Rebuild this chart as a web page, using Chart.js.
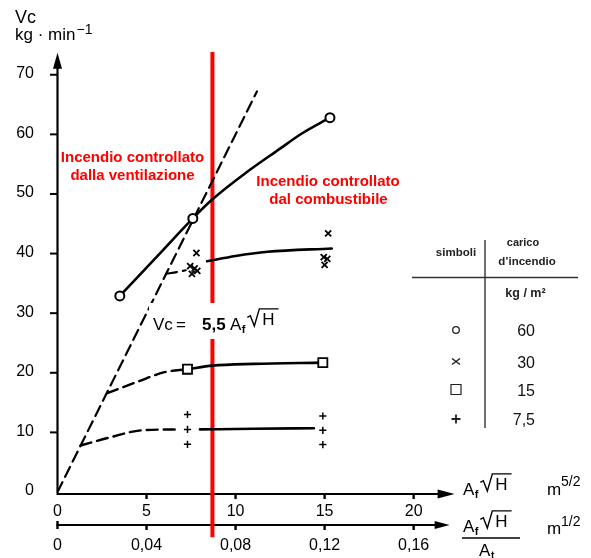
<!DOCTYPE html>
<html>
<head>
<meta charset="utf-8">
<script src="https://cdn.jsdelivr.net/npm/chart.js@4.4.1/dist/chart.umd.min.js"></script>
<style>
  html, body { margin: 0; padding: 0; background: #fff; }
  canvas { display: block; }
</style>
</head>
<body>
<canvas id="chart" width="591" height="558"></canvas>
<script>
// Rate of combustion Vc (kg/min) against the ventilation factor Af·√H

// axis ticks
const yTicks = [0, 10, 20, 30, 40, 50, 60, 70];
const xTicks = [0, 5, 10, 15, 20];
const x2Ticks = [0, 0.04, 0.08, 0.12, 0.16];
const x2Labels = ['0', '0,04', '0,08', '0,12', '0,16'];

// ventilation-controlled limit, Vc = 5,5 Af√H
const ventLimit = [[0, 0], [11.2, 67.2]];
// boundary between the two regimes
const boundaryX = 8.7;
const boundaryY = [-7.6, 73.8];

// fire load 60 kg/m²
const load60Marks = [[3.5, 32.9], [7.6, 45.9], [15.3, 62.8]];
const load60Curve = [[3.5, 32.9], [5.9, 40.5], [7.6, 45.9], [8.7, 49.1], [10.6, 53.6], [12.5, 57.6], [13.7, 60.1], [15.3, 62.8]];

// fire load 30 kg/m²
const load30Marks = [[7.8, 40.1], [7.45, 37.9], [7.7, 37.5], [7.55, 36.6], [7.85, 37.1],
                     [15.2, 43.4], [14.95, 39.4], [15.15, 39.1], [15.0, 38.1]];
const load30Dashed = [[6.1, 36.6], [6.7, 36.9], [7.2, 37.2]];
const load30Curve = [[8.4, 38.7], [10.0, 39.6], [11.8, 40.3], [15.4, 40.85]];

// fire load 15 kg/m²
const load15Marks = [[7.3, 20.6], [14.9, 21.7]];
const load15Dashed = [[2.8, 16.6], [4.5, 18.5], [6.0, 20.1], [7.3, 20.6]];
const load15Curve = [[7.3, 20.6], [8.7, 21.2], [11.0, 21.5], [14.9, 21.7]];

// fire load 7,5 kg/m²
const load75Marks = [[7.3, 13.0], [7.3, 10.5], [7.3, 8.0], [14.9, 12.75], [14.9, 10.35], [14.9, 7.95]];
const load75Dashed = [[1.3, 7.8], [3.0, 9.2], [4.7, 10.35], [6.7, 10.5]];
const load75Curve = [[8.0, 10.5], [11.0, 10.6], [14.4, 10.7]];

// legend table
const legendStyles = ['circle', 'crossRot', 'rect', 'cross'];
const legendLoads = ['60', '30', '15', '7,5'];

const pts = arr => arr.map(([x, y]) => ({ x, y }));
const FONT = '"Liberation Sans", Arial, Helvetica, sans-serif';
const INK = '#000';
const RED = '#ff0000';

function curve(data, dashed, width) {
  return {
    type: 'line', data: pts(data), borderColor: INK, borderWidth: width || 2.4,
    borderDash: dashed ? [11, 6] : [], pointRadius: 0, fill: false,
    cubicInterpolationMode: 'monotone', borderCapStyle: 'round', borderJoinStyle: 'round'
  };
}
function marks(data, style, radius, lw) {
  return {
    type: 'scatter', data: pts(data), showLine: false, pointStyle: style,
    pointRadius: radius, pointBorderWidth: lw, pointBorderColor: INK,
    pointBackgroundColor: '#fff'
  };
}

function text(ctx, s, x, y, font, align, color) {
  ctx.font = font;
  ctx.textAlign = align || 'left';
  ctx.textBaseline = 'alphabetic';
  ctx.fillStyle = color || INK;
  ctx.fillText(s, x, y);
  return ctx.measureText(s).width;
}

// A_f √H with a drawn radical; returns the right end
function ventFactor(ctx, x, base, size) {
  const w = text(ctx, 'A', x, base, size + 'px ' + FONT);
  text(ctx, 'f', x + w + 0.5, base + 3, 'bold ' + Math.round(size * 0.62) + 'px ' + FONT);
  const r0 = x + w + 6;
  const hb = base - 5;                 // raised root
  const top = hb - size * 0.95;
  ctx.font = size + 'px ' + FONT;
  const hw = ctx.measureText('H').width;
  ctx.beginPath();
  ctx.moveTo(r0, hb - size * 0.45);
  ctx.lineTo(r0 + 3, hb - size * 0.55);
  ctx.lineTo(r0 + 7, hb + 1);
  ctx.lineTo(r0 + 12, top);
  ctx.lineTo(r0 + 15 + hw + 4, top);
  ctx.strokeStyle = INK; ctx.lineWidth = 1.4; ctx.stroke();
  text(ctx, 'H', r0 + 15, hb, size + 'px ' + FONT);
  return r0 + 15 + hw + 4;
}

const figureDecor = {
  id: 'figureDecor',
  beforeDatasetsDraw(chart) {
    const { ctx, chartArea: ca, scales: { x, y, x2 } } = chart;
    const x0 = x.getPixelForValue(0), y0 = y.getPixelForValue(0);
    ctx.save();
    ctx.strokeStyle = INK; ctx.fillStyle = INK; ctx.lineCap = 'butt';

    // vertical axis with arrow
    ctx.lineWidth = 2.2;
    ctx.beginPath(); ctx.moveTo(x0, y0 + 1); ctx.lineTo(x0, ca.top + 12); ctx.stroke();
    ctx.beginPath(); ctx.moveTo(x0, ca.top); ctx.lineTo(x0 - 4.5, ca.top + 16); ctx.lineTo(x0 + 4.5, ca.top + 16); ctx.closePath(); ctx.fill();
    yTicks.forEach(v => {
      const py = y.getPixelForValue(v);
      if (v > 0) { ctx.lineWidth = 2; ctx.beginPath(); ctx.moveTo(x0 - 7.5, py); ctx.lineTo(x0, py); ctx.stroke(); }
      ctx.font = '16px ' + FONT; ctx.textAlign = 'right'; ctx.textBaseline = 'middle';
      ctx.fillText(String(v), 34, py - 1);
    });

    // first horizontal axis: Af√H
    ctx.lineWidth = 2.2;
    ctx.beginPath(); ctx.moveTo(x0 - 1, y0 + 2); ctx.lineTo(ca.right - 12, y0 + 2); ctx.stroke();
    ctx.beginPath(); ctx.moveTo(ca.right, y0 + 2); ctx.lineTo(ca.right - 17, y0 - 2.5); ctx.lineTo(ca.right - 17, y0 + 6.5); ctx.closePath(); ctx.fill();
    xTicks.forEach(v => {
      const px = x.getPixelForValue(v);
      if (v > 0) { ctx.lineWidth = 2.4; ctx.beginPath(); ctx.moveTo(px, y0 + 1); ctx.lineTo(px, y0 + 7); ctx.stroke(); }
      ctx.font = '16px ' + FONT; ctx.textAlign = 'center'; ctx.textBaseline = 'middle';
      ctx.fillText(String(v), px, y0 + 20);
    });

    // second horizontal axis: Af√H / At
    const y2 = y0 + 33;
    ctx.lineWidth = 2;
    ctx.beginPath(); ctx.moveTo(x0 - 1, y2); ctx.lineTo(ca.right - 16, y2); ctx.stroke();
    ctx.beginPath(); ctx.moveTo(ca.right - 5, y2); ctx.lineTo(ca.right - 20, y2 - 4); ctx.lineTo(ca.right - 20, y2 + 4); ctx.closePath(); ctx.fill();
    x2Ticks.forEach((v, i) => {
      const px = x2.getPixelForValue(v);
      ctx.lineWidth = 2.4; ctx.beginPath();
      if (i === 0) { ctx.moveTo(px, y2 - 4); ctx.lineTo(px, y2 + 4); }
      else { ctx.moveTo(px, y2); ctx.lineTo(px, y2 + 5); }
      ctx.stroke();
      ctx.font = '16px ' + FONT; ctx.textAlign = 'center'; ctx.textBaseline = 'middle';
      ctx.fillText(x2Labels[i], px, y2 + 21);
    });
    ctx.restore();
  },

  afterDatasetsDraw(chart) {
    const { ctx } = chart;
    ctx.save();

    // axis titles
    text(ctx, 'Vc', 15, 23, '18px ' + FONT);
    const kw = text(ctx, 'kg · min', 15, 40, '17px ' + FONT);
    text(ctx, '−1', 15 + kw + 1, 34, '14px ' + FONT);

    ventFactor(ctx, 463, 495, 17);
    text(ctx, 'm', 547, 495, '17px ' + FONT);
    text(ctx, '5/2', 561, 486, '14px ' + FONT);

    ventFactor(ctx, 463, 532, 17);
    ctx.strokeStyle = INK; ctx.lineWidth = 1.3;
    ctx.beginPath(); ctx.moveTo(462, 538); ctx.lineTo(520, 538); ctx.stroke();
    text(ctx, 'A', 479, 556, '17px ' + FONT);
    text(ctx, 't', 491, 559, 'bold 10px ' + FONT);
    text(ctx, 'm', 547, 534, '17px ' + FONT);
    text(ctx, '1/2', 561, 526, '14px ' + FONT);

    // regime labels
    const rb = 'bold 15px ' + FONT;
    text(ctx, 'Incendio controllato', 132.5, 162, rb, 'center', RED);
    text(ctx, 'dalla ventilazione', 132.5, 179.5, rb, 'center', RED);
    text(ctx, 'Incendio controllato', 328, 185.5, rb, 'center', RED);
    text(ctx, 'dal combustibile', 328.5, 203.5, rb, 'center', RED);

    // limit formula on a white ground
    ctx.fillStyle = '#fff';
    ctx.fillRect(149, 303, 142, 36);
    text(ctx, 'Vc', 153, 330, '17px ' + FONT);
    text(ctx, '=', 176, 330, '17px ' + FONT);
    text(ctx, '5,5', 202, 330, 'bold 17px ' + FONT);
    ventFactor(ctx, 230, 330, 17);

    // legend table
    ctx.strokeStyle = '#333'; ctx.lineWidth = 1.4;
    ctx.beginPath(); ctx.moveTo(485, 240); ctx.lineTo(485, 428); ctx.stroke();
    ctx.beginPath(); ctx.moveTo(412, 277.5); ctx.lineTo(578, 277.5); ctx.stroke();
    const hf = 'bold 11.5px ' + FONT;
    text(ctx, 'simboli', 456, 256, hf, 'center', '#222');
    text(ctx, 'carico', 523, 246, 'bold 11px ' + FONT, 'center', '#222');
    text(ctx, 'd\u2019incendio', 527, 265, hf, 'center', '#222');
    text(ctx, 'kg / m²', 525.5, 297, 'bold 12.5px ' + FONT, 'center', '#222');

    const rows = [330, 361.5, 389.5, 419];
    legendStyles.forEach((st, i) => {
      const sx = 456, sy = rows[i];
      ctx.strokeStyle = '#222'; ctx.beginPath();
      if (st === 'circle') { ctx.lineWidth = 1.3; ctx.arc(sx, sy, 3.3, 0, Math.PI * 2); }
      else if (st === 'crossRot') { ctx.lineWidth = 1.5; ctx.moveTo(sx - 4, sy - 3); ctx.lineTo(sx + 4, sy + 3); ctx.moveTo(sx - 4, sy + 3); ctx.lineTo(sx + 4, sy - 3); }
      else if (st === 'rect') { ctx.lineWidth = 1.2; ctx.rect(sx - 5, sy - 5, 10, 10); }
      else { ctx.lineWidth = 1.8; ctx.moveTo(sx - 4.5, sy); ctx.lineTo(sx + 4.5, sy); ctx.moveTo(sx, sy - 4.5); ctx.lineTo(sx, sy + 4.5); }
      ctx.stroke();
      text(ctx, legendLoads[i], 535, sy + 6, '16px ' + FONT, 'right', '#111');
    });
    ctx.restore();
  }
};

new Chart(document.getElementById('chart'), {
  data: {
    datasets: [
      marks(load60Marks, 'circle', 4.5, 2),
      marks(load30Marks, 'crossRot', 4.3, 1.8),
      marks(load15Marks, 'rect', 6.4, 1.8),
      marks(load75Marks, 'cross', 3.6, 1.5),
      curve(load60Curve, false, 2.6),
      curve(load30Curve, false, 2.6),
      curve(load30Dashed, true, 2.2),
      curve(load15Curve, false, 2.6),
      curve(load15Dashed, true, 2.4),
      curve(load75Curve, false, 2.6),
      curve(load75Dashed, true, 2.4),
      curve(ventLimit, true, 2.2),
      {
        type: 'line', data: [{ x: boundaryX, y: boundaryY[0] }, { x: boundaryX, y: boundaryY[1] }],
        borderColor: RED, borderWidth: 4, pointRadius: 0, clip: false
      }
    ]
  },
  options: {
    responsive: false,
    animation: false,
    devicePixelRatio: 1,
    layout: { padding: { left: 57.5, right: 136.4, top: 52.7, bottom: 66 } },
    plugins: { legend: { display: false }, tooltip: { enabled: false } },
    scales: {
      x: { type: 'linear', min: 0, max: 22.3, display: false },
      y: { type: 'linear', min: 0, max: 73.7, display: false },
      x2: { type: 'linear', axis: 'x', min: 0, max: 22.3 / 125, display: false }
    }
  },
  plugins: [figureDecor]
});
</script>
</body>
</html>
